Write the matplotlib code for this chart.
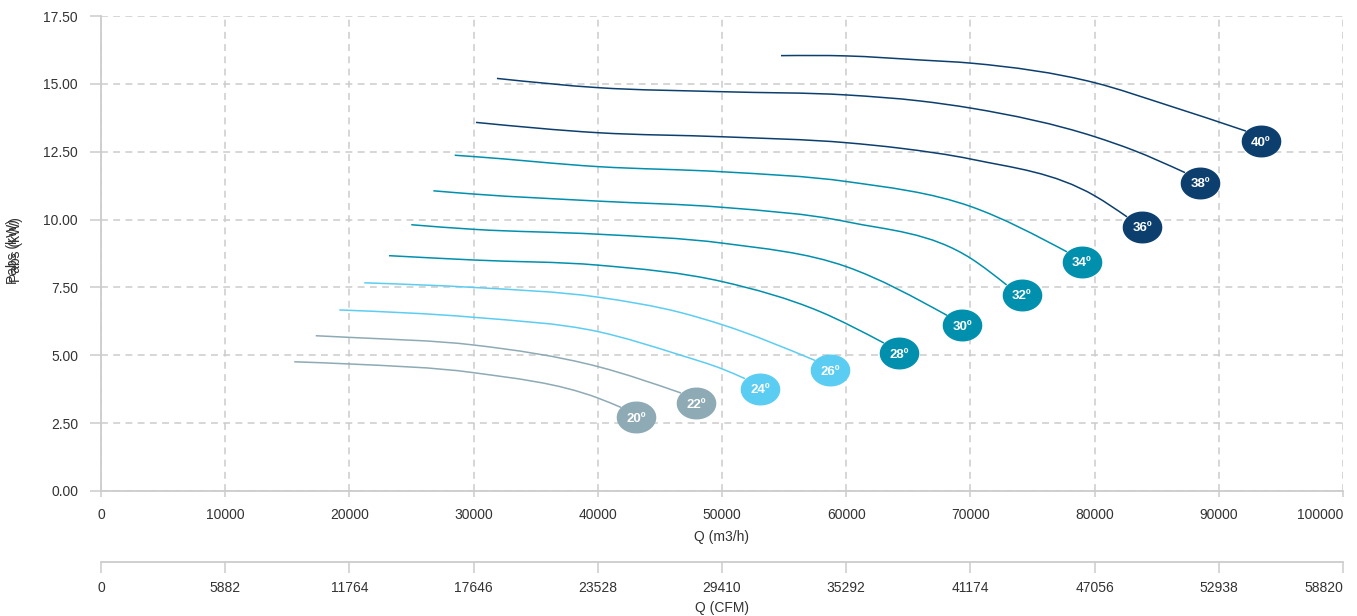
import numpy as np
import matplotlib
matplotlib.use("Agg")
import matplotlib.pyplot as plt
from matplotlib.path import Path
from matplotlib.patches import PathPatch
from matplotlib.transforms import ScaledTranslation

plt.rcParams['font.family'] = ['Liberation Sans', 'DejaVu Sans']

# Data (Q in m3/h, Pabs in kW)
angles = [20, 22, 24, 26, 28, 30, 32, 34, 36, 38, 40]

q20 = [15560, 19990, 29980, 40040, 41870]
p20 = [4.76, 4.68, 4.36, 3.42, 3.08]
q22 = [17290, 19990, 29980, 40040, 46700]
p22 = [5.72, 5.66, 5.38, 4.58, 3.61]
q24 = [19190, 29980, 40040, 46620, 50060, 51850]
p24 = [6.67, 6.40, 5.87, 5.01, 4.49, 4.14]
q26 = [21200, 29980, 40040, 46620, 50060, 57490]
p26 = [7.67, 7.50, 7.14, 6.58, 6.12, 4.81]
q28 = [23190, 30030, 40040, 50060, 57890, 63040]
p28 = [8.67, 8.51, 8.32, 7.71, 6.61, 5.45]
q30 = [24980, 30030, 40040, 50060, 60040, 68120]
p30 = [9.81, 9.64, 9.46, 9.13, 8.26, 6.47]
q32 = [26760, 30030, 40040, 50060, 60040, 70100, 72920]
p32 = [11.06, 10.94, 10.68, 10.45, 9.92, 8.55, 7.59]
q34 = [28480, 30030, 40040, 50060, 60040, 70100, 77780]
p34 = [12.37, 12.32, 11.95, 11.76, 11.40, 10.47, 8.81]
q36 = [30190, 40020, 50060, 60060, 64330, 70130, 80030, 82610]
p36 = [13.58, 13.20, 13.05, 12.83, 12.63, 12.22, 10.87, 10.10]
q38 = [31880, 40020, 50060, 60060, 65940, 70130, 80030, 83090, 87280]
p38 = [15.20, 14.86, 14.71, 14.59, 14.37, 14.10, 13.05, 12.56, 11.73]
q40 = [54750, 59980, 65940, 70130, 80030, 85830, 92190]
p40 = [16.04, 16.03, 15.88, 15.76, 15.04, 14.22, 13.26]

curves_q = [q20, q22, q24, q26, q28, q30, q32, q34, q36, q38, q40]
curves_p = [p20, p22, p24, p26, p28, p30, p32, p34, p36, p38, p40]

gray = '#8eaab5'
cyan = '#5ccdf2'
teal = '#0090ad'
navy = '#0c3f6e'
colors = [gray, gray, cyan, cyan, teal, teal, teal, teal, navy, navy, navy]

m3h_ticks = [0, 10000, 20000, 30000, 40000, 50000, 60000, 70000, 80000, 90000, 100000]
cfm_ticks = [0, 5882, 11764, 17646, 23528, 29410, 35292, 41174, 47056, 52938, 58820]
p_ticks = [0, 2.5, 5, 7.5, 10, 12.5, 15, 17.5]


def smooth_path(xs, ys):
    # smooth cubic through the points, as Bezier segments
    x = np.asarray(xs, float)
    y = np.asarray(ys, float)
    h = np.diff(x)
    s = np.diff(y) / h
    n = len(x)
    m = np.zeros(n)
    for i in range(1, n - 1):
        m[i] = (s[i - 1] * h[i] + s[i] * h[i - 1]) / (h[i - 1] + h[i])
    m[0] = (3 * s[0] - m[1]) / 2
    m[-1] = (3 * s[-1] - m[-2]) / 2
    verts = [(x[0], y[0])]
    codes = [Path.MOVETO]
    for i in range(n - 1):
        d = h[i] / 3
        verts += [(x[i] + d, y[i] + m[i] * d), (x[i + 1] - d, y[i + 1] - m[i + 1] * d),
                  (x[i + 1], y[i + 1])]
        codes += [Path.CURVE4] * 3
    return Path(verts, codes)


# ellipse marker for the angle labels
t = np.linspace(0, 2 * np.pi, 80)
ellipse = Path(np.column_stack([1.25 * np.cos(t), np.sin(t)]), closed=True)

fig = plt.figure(figsize=(13.57, 6.16), dpi=100)
W, H = 1357, 616
ax = fig.add_axes([101 / W, (H - 491) / H, 1242 / W, 475 / H])

grid_col = '#cccccc'
text_col = '#333333'

# label sits a little right of / below the end of each curve
label_tr = ax.transData + ScaledTranslation(0.15, -0.10, fig.dpi_scale_trans)
text_tr = ax.transData + ScaledTranslation(0.15, -0.115, fig.dpi_scale_trans)

for q, p, c, a in zip(curves_q, curves_p, colors, angles):
    ax.add_patch(PathPatch(smooth_path(q, p), fill=False, edgecolor=c, lw=1.1, zorder=3))
    ax.plot(q[-1], p[-1], marker=ellipse, ms=27.5, color=c, mec=c, zorder=4,
            transform=label_tr)
    ax.text(q[-1], p[-1], f"{a}º", ha='center', va='center', color='white',
            fontweight='bold', fontsize=9.5, zorder=5, transform=text_tr)

ax.set_xlim(0, 100000)
ax.set_ylim(0, 17.5)
ax.set_xticks(m3h_ticks)
ax.set_yticks(p_ticks)
ax.set_yticklabels([f"{v:.2f}" for v in p_ticks])
ax.grid(True, color=grid_col, ls=(0, (4.5, 3.5)), lw=1.1)
ax.set_axisbelow(True)
for s in ['top', 'right']:
    ax.spines[s].set_visible(False)
for s in ['left', 'bottom']:
    ax.spines[s].set_color(grid_col)
    ax.spines[s].set_linewidth(1.3)
ax.tick_params(axis='y', length=8, width=1.1, color=grid_col, pad=8.5,
               labelsize=10, labelcolor=text_col)
ax.tick_params(axis='x', length=4, width=1.1, color=grid_col, pad=8,
               labelsize=10, labelcolor=text_col)
ax.get_xticklabels()[-1].set_horizontalalignment('right')
ax.set_xlabel("Q (m3/h)", fontsize=10, color=text_col, labelpad=6)

# doubled y label as in the reference
fig.text(13 / W, 1 - 252 / H, "Pabs (kW)", rotation=90, ha='center', va='center',
         fontsize=10, color=text_col)
fig.text(16 / W, 1 - 250 / H, "Pabs (kW)", rotation=90, ha='center', va='center',
         fontsize=10, color=text_col)

# second x axis in CFM
ax2 = fig.add_axes([101 / W, (H - 562) / H, 1242 / W, 0.0001])
ax2.set_xlim(0, 58820)
ax2.set_xticks(cfm_ticks)
ax2.set_yticks([])
for s in ['top', 'right', 'left']:
    ax2.spines[s].set_visible(False)
ax2.spines['bottom'].set_color(grid_col)
ax2.spines['bottom'].set_linewidth(1.3)
ax2.patch.set_visible(False)
ax2.tick_params(axis='x', length=8, width=1.1, color=grid_col, pad=6,
                labelsize=10, labelcolor=text_col)
ax2.get_xticklabels()[-1].set_horizontalalignment('right')
ax2.set_xlabel("Q (CFM)", fontsize=10, color=text_col, labelpad=4)

fig.savefig("out.png", dpi=100)
